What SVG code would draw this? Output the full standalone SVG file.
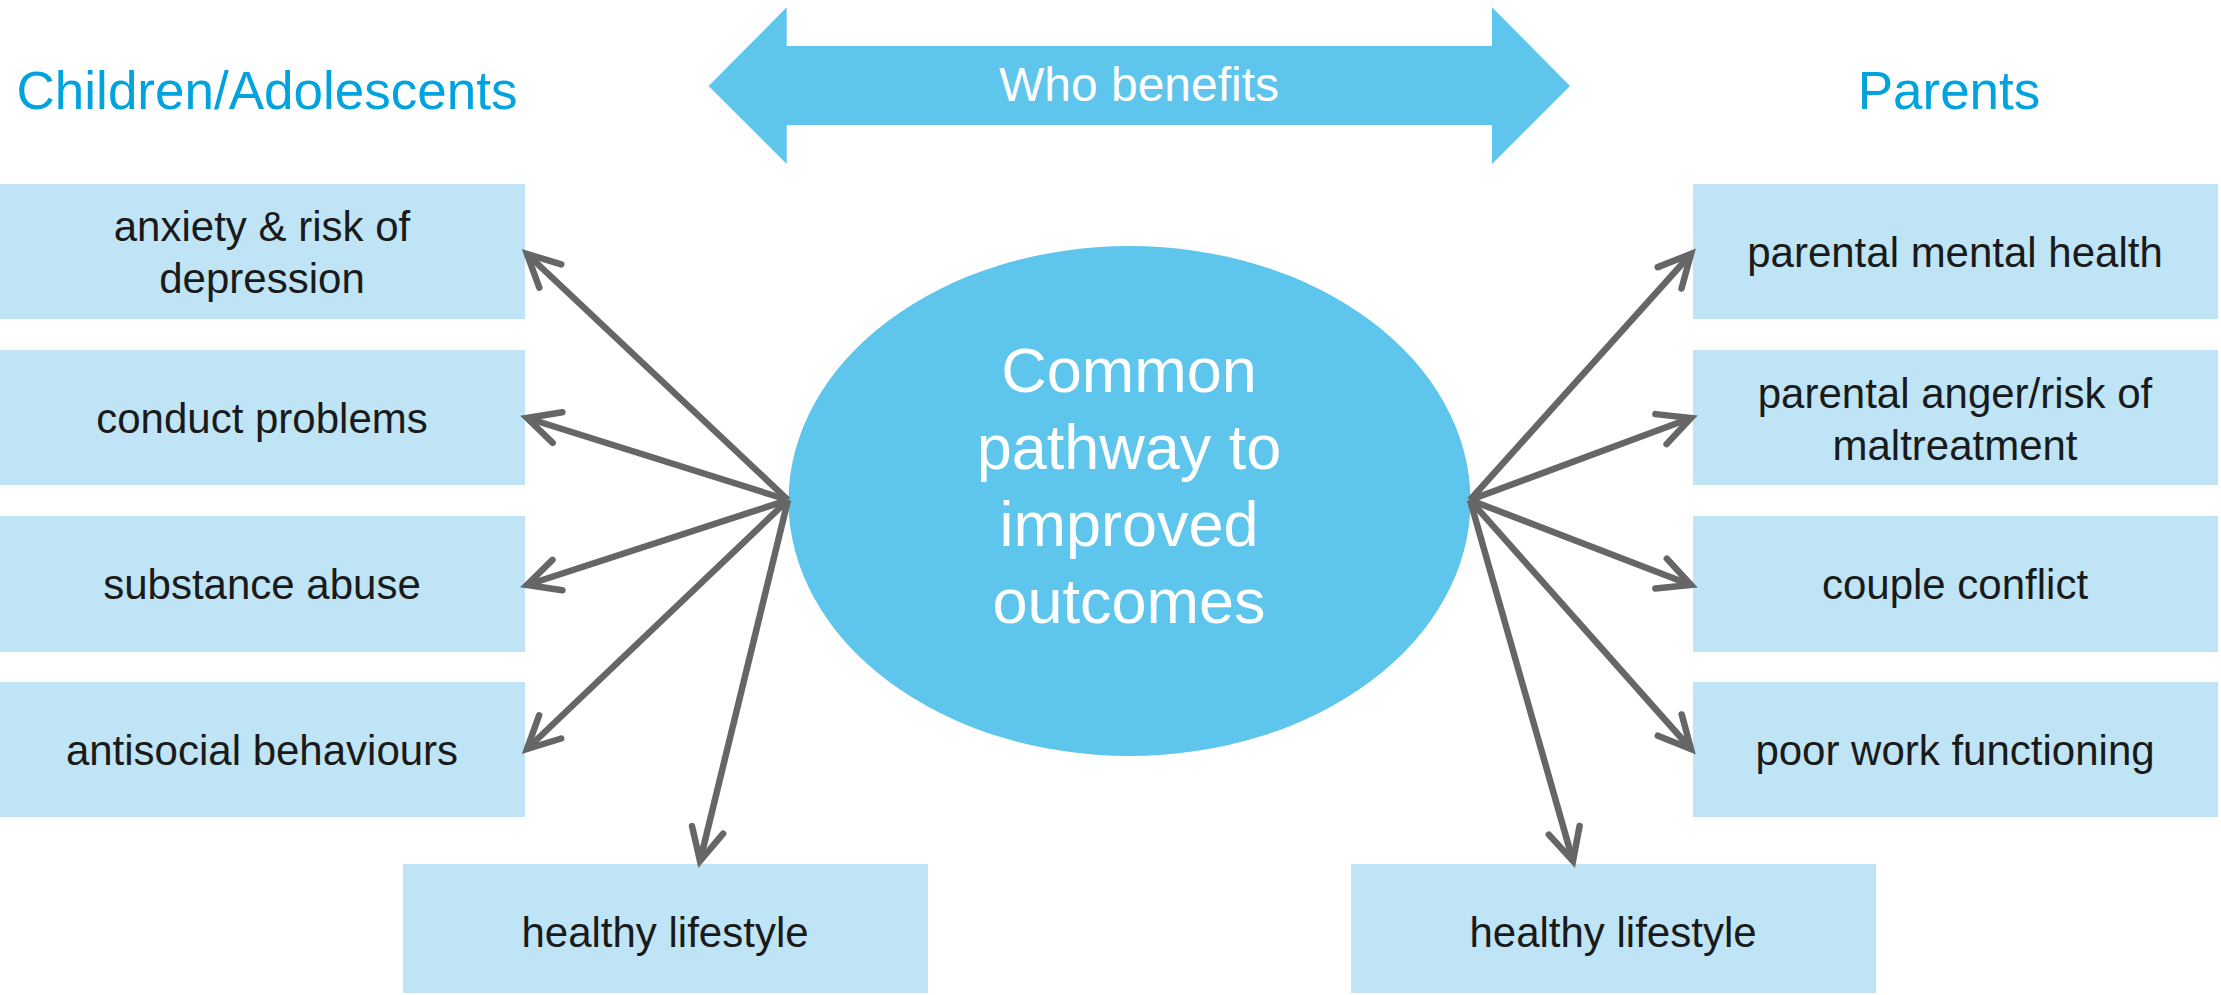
<svg xmlns="http://www.w3.org/2000/svg" width="2221" height="995" viewBox="0 0 2221 995">
<style>
.box{fill:#bee4f6}
.bt{font-family:"Liberation Sans",Arial,sans-serif;font-size:42px;fill:#1a1a1a;text-anchor:middle}
.hd{font-family:"Liberation Sans",Arial,sans-serif;font-size:53px;fill:#00a3dd;text-anchor:middle}
.wt{font-family:"Liberation Sans",Arial,sans-serif;fill:#ffffff;text-anchor:middle}
.conn line{stroke:#666666;stroke-width:6.5;fill:none;marker-end:url(#ah)}
</style>
<defs>
<marker id="ah" markerUnits="userSpaceOnUse" orient="auto" refX="0" refY="0" markerWidth="80" markerHeight="80" viewBox="-50 -40 60 80" overflow="visible">
<path d="M-32,-16 L0,0 L-32,16" fill="none" stroke="#666666" stroke-width="6.5" stroke-linecap="round" stroke-linejoin="miter"/>
</marker>
</defs>
<rect width="2221" height="995" fill="#ffffff"/>
<g id="header-children"><text class="hd" x="267" y="109">Children/Adolescents</text></g>
<g id="header-parents"><text class="hd" x="1949" y="109">Parents</text></g>
<g id="who-benefits">
<polygon points="708.6,86 786.7,7.3 786.7,46 1492,46 1492,7.3 1570,86 1492,164 1492,125 786.7,125 786.7,164" fill="#5ec5ec"/>
<text class="wt" x="1139" y="101" font-size="48">Who benefits</text>
</g>
<g id="center">
<ellipse cx="1129.5" cy="501" rx="341" ry="255" fill="#5ec5ec"/>
<text class="wt" font-size="63" x="1129" y="392">Common</text>
<text class="wt" font-size="63" x="1129" y="469">pathway to</text>
<text class="wt" font-size="63" x="1129" y="546">improved</text>
<text class="wt" font-size="63" x="1129" y="623">outcomes</text>
</g>
<g id="c-anxiety"><rect class="box" x="0" y="184" width="525" height="135"/><text class="bt" x="262" y="241">anxiety &amp; risk of</text><text class="bt" x="262" y="293">depression</text></g>
<g id="c-conduct"><rect class="box" x="0" y="350" width="525" height="135"/><text class="bt" x="262" y="433">conduct problems</text></g>
<g id="c-substance"><rect class="box" x="0" y="516" width="525" height="136"/><text class="bt" x="262" y="599">substance abuse</text></g>
<g id="c-antisocial"><rect class="box" x="0" y="682" width="525" height="135"/><text class="bt" x="262" y="765">antisocial behaviours</text></g>
<g id="c-healthy"><rect class="box" x="403" y="864" width="525" height="129"/><text class="bt" x="665" y="947">healthy lifestyle</text></g>
<g id="p-mental"><rect class="box" x="1693" y="184" width="525" height="135"/><text class="bt" x="1955" y="267">parental mental health</text></g>
<g id="p-anger"><rect class="box" x="1693" y="350" width="525" height="135"/><text class="bt" x="1955" y="408">parental anger/risk of</text><text class="bt" x="1955" y="460">maltreatment</text></g>
<g id="p-couple"><rect class="box" x="1693" y="516" width="525" height="136"/><text class="bt" x="1955" y="599">couple conflict</text></g>
<g id="p-work"><rect class="box" x="1693" y="682" width="525" height="135"/><text class="bt" x="1955" y="765">poor work functioning</text></g>
<g id="p-healthy"><rect class="box" x="1351" y="864" width="525" height="129"/><text class="bt" x="1613" y="947">healthy lifestyle</text></g>
<g id="connectors" class="conn">
<line x1="788" y1="500" x2="527" y2="254"/>
<line x1="788" y1="500" x2="527" y2="418"/>
<line x1="788" y1="500" x2="527" y2="585"/>
<line x1="788" y1="500" x2="527" y2="749"/>
<line x1="788" y1="500" x2="700" y2="861"/>
<line x1="1470" y1="500" x2="1691" y2="254"/>
<line x1="1470" y1="500" x2="1691" y2="418"/>
<line x1="1470" y1="500" x2="1691" y2="585"/>
<line x1="1470" y1="500" x2="1691" y2="749"/>
<line x1="1470" y1="500" x2="1573" y2="861"/>
</g>
</svg>
